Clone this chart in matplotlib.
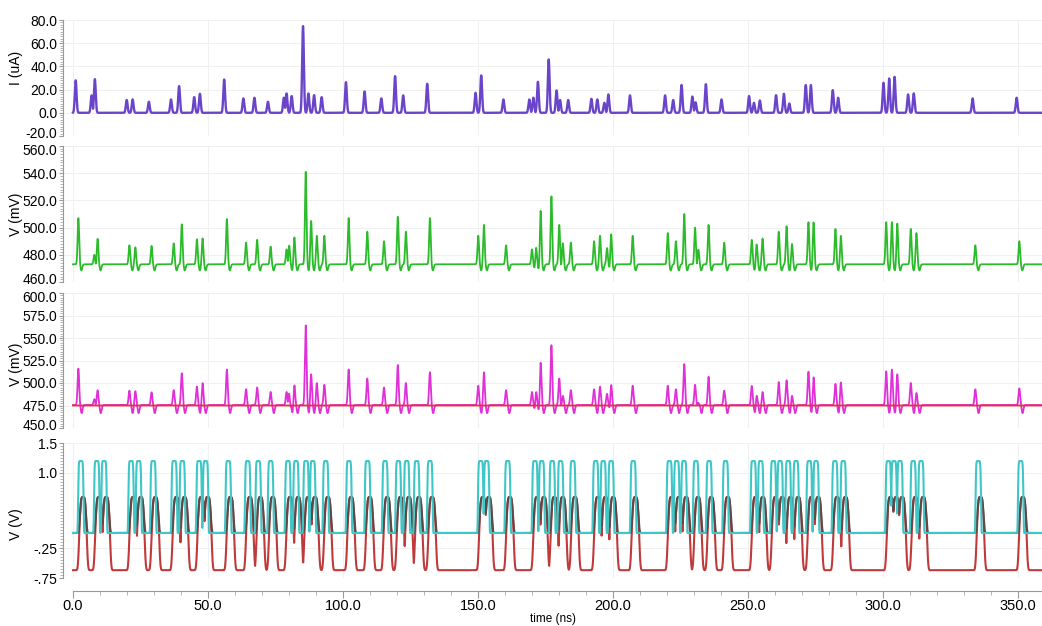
import numpy as np
import matplotlib.pyplot as plt
from matplotlib.ticker import MultipleLocator, FixedLocator
from matplotlib.transforms import ScaledTranslation

plt.rcParams['font.family'] = ['Liberation Sans', 'DejaVu Sans']

# spike events (ns), with the peak of each panel
spike_t = [1.0, 6.9, 8.1, 19.9, 22.1, 28.1, 36.3, 39.3, 44.9, 47.0,
           56.0, 63.1, 67.2, 72.2, 78.1, 79.1, 81.0, 85.2, 87.2, 89.3,
           92.1, 101.1, 108.0, 114.2, 119.3, 122.3, 131.2, 149.1, 151.2, 159.4,
           169.0, 170.5, 172.2, 176.2, 179.1, 180.4, 183.4, 192.0, 194.2, 196.8,
           198.3, 206.3, 219.3, 222.3, 225.4, 229.4, 230.6, 234.4, 240.2, 250.4,
           252.2, 254.4, 260.4, 263.3, 265.3, 271.4, 273.3, 281.4, 283.4, 300.2,
           302.3, 304.3, 309.3, 311.4, 333.2, 349.5]
current_peak = [28, 15, 29, 11, 11.5, 9.5, 11.5, 23, 13.5, 16.4,
                28.7, 12.4, 13, 9.5, 13, 16.7, 14.4, 74.7, 16.7, 15.2,
                13.5, 26.4, 18.4, 12.4, 31.6, 15, 25, 17.2, 32.2, 11.5,
                11.5, 13, 26.7, 46, 19.3, 11, 11, 12, 11.5, 8.6,
                15.8, 15, 15, 11, 24, 14, 9, 24.7, 11.5, 14.4,
                8.6, 10.6, 15.2, 16.4, 8, 23.9, 23.9, 19.5, 13, 25.9,
                29.6, 31, 15.8, 16.7, 12.4, 13]
green_peak = [507, 480, 496, 487, 485.5, 486.5, 488.4, 502.4, 491.4, 492.1,
              506.3, 489, 491, 486, 484, 491, 493, 541, 505, 494,
              494, 507, 497, 490, 508, 497, 507, 494, 502, 487,
              484, 487, 513, 523, 502, 492, 489, 490, 494, 485,
              497, 494, 496, 490, 510, 500, 488, 502, 489, 491,
              488, 492, 497, 501, 488, 504, 504, 499, 494, 504,
              504, 503, 499, 496, 487, 490]
pink_peak = [516, 482, 501, 491.5, 491, 489.6, 492, 510.8, 496, 500,
             515, 493, 495, 490, 490, 495, 498, 564, 510, 500,
             498, 515, 505, 495, 520, 500, 512, 497, 512, 492,
             490, 495, 525, 542, 505, 494, 492, 493, 496, 488,
             503, 497, 497, 493, 521, 498, 487, 507, 491.5, 496.7,
             487, 490, 501, 503, 486, 512.6, 507, 499, 501, 513,
             515, 510, 500, 489, 493, 494]

# output pulses of the bottom panel (ns)
pulse_t = [2.9, 8.8, 11.5, 21.5, 24.3, 29.7, 37.5, 40.5, 46.7, 49.1,
           57.5, 64.7, 68.6, 73.2, 79.6, 82.6, 86.3, 88.8, 93.6, 102.2,
           109.1, 115.6, 120.5, 123.6, 127.3, 132.2, 151.0, 153.2, 161.0, 171.1,
           173.6, 177.5, 180.6, 185.1, 193.6, 196.4, 199.3, 207.5, 220.9, 223.6,
           226.3, 230.7, 235.6, 241.7, 252.0, 254.7, 259.4, 261.9, 264.9, 267.8,
           272.7, 275.2, 282.2, 285.3, 302.0, 304.1, 306.3, 311.2, 314.1, 335.3,
           351.0]

t = np.linspace(0, 360, 12000)


def bumps(centers, heights, width, power=2):
    out = np.zeros_like(t)
    for c, h in zip(centers, np.broadcast_to(heights, len(centers))):
        out = np.maximum(out, h * np.exp(-np.abs((t - c) / width) ** power))
    return out


st = np.array(spike_t)
i_trace = bumps(st, current_peak, 0.45)
g_trace = 473 + bumps(st + 1.0, np.array(green_peak) - 473, 0.4) - bumps(st + 2.1, 4.5, 0.45)
p_trace = 475.5 + bumps(st + 1.0, np.array(pink_peak) - 475.5, 0.42) - bumps(st + 2.2, 9.0, 0.45)
ref_trace = np.full_like(t, 475.0)
pt = np.array(pulse_t)
cyan_trace = bumps(pt, 1.2, 1.05, power=8)
red_trace = -0.62 + bumps(pt + 0.8, 1.22, 1.5, power=4)
dark_trace = bumps(pt + 0.8, 0.6, 1.25, power=4)

fig = plt.figure(figsize=(10.42, 6.26), dpi=100)
left = 63 / 1042
rows = [(20, 136), (146, 282), (293, 428), (443, 578)]
axes = [fig.add_axes([left, 1 - b / 626, 1 - left, (b - a) / 626]) for a, b in rows]

axes[0].plot(t, i_trace, color='#6a45c9', lw=1.7)
axes[1].plot(t, g_trace, color='#2bbb2b', lw=1.3)
axes[2].plot(t, p_trace, color='#e030d8', lw=1.3)
axes[2].plot(t, ref_trace, color='#e8303c', lw=1.3)
axes[3].plot(t, red_trace, color='#bf3a3a', lw=1.5)
axes[3].plot(t, dark_trace, color='#5e4848', lw=1.5)
axes[3].plot(t, cyan_trace, color='#3fc6c6', lw=1.5)

limits = [(-20, 80), (460, 560), (450, 600), (-0.75, 1.5)]
majors = [np.arange(-20, 81, 20), np.arange(460, 561, 20), np.arange(450, 601, 25),
          [-0.75, -0.25, 1.0, 1.5]]
minors = [2, 2, 2.5, 0.05]
ylabels = ['I (uA)', 'V (mV)', 'V (mV)', 'V (V)']
label_y = [0.59, 0.5, 0.47, 0.4]

for ax, lim, maj, mn, lab, ly in zip(axes, limits, majors, minors, ylabels, label_y):
    ax.set_xlim(-3.7, 358.9)
    ax.set_ylim(*lim)
    ax.yaxis.set_major_locator(FixedLocator(maj))
    ax.yaxis.set_minor_locator(MultipleLocator(mn))
    ax.xaxis.set_major_locator(MultipleLocator(50))
    ax.xaxis.set_minor_locator(MultipleLocator(10))
    for s in ['top', 'right', 'bottom']:
        ax.spines[s].set_visible(False)
    ax.spines['left'].set_color('#999999')
    ax.tick_params(axis='y', which='major', length=3, color='#999999', labelsize=10, pad=1)
    ax.tick_params(axis='y', which='minor', length=2, color='#aaaaaa')
    ax.tick_params(axis='x', which='both', bottom=False, labelbottom=False)
    ax.grid(True, which='major', color='#f0f0f0', lw=0.8)
    ax.set_ylabel(lab, fontsize=10)
    ax.yaxis.set_label_coords(-0.041, ly)
    ax.patch.set_alpha(0)

for ax in axes[:3]:
    ax.set_yticklabels([f'{v:.1f}' for v in ax.get_yticks()])
axes[3].set_yticklabels(['-.75', '-.25', '1.0', '1.5'])

# the stacked end labels sit just clear of each other
up = ScaledTranslation(0, 2.5 / 72, fig.dpi_scale_trans)
down = ScaledTranslation(0, -2.5 / 72, fig.dpi_scale_trans)
for ax in axes[:3]:
    lbl = ax.get_yticklabels()[0]
    lbl.set_transform(lbl.get_transform() + up)
for ax in axes[1:3]:
    lbl = ax.get_yticklabels()[-1]
    lbl.set_transform(lbl.get_transform() + down)

bx = axes[3]
bx.spines['bottom'].set_visible(True)
bx.spines['bottom'].set_position(('outward', 9))
bx.spines['bottom'].set_bounds(0, 358.9)
bx.spines['bottom'].set_color('#999999')
bx.tick_params(axis='x', which='major', bottom=True, labelbottom=True, length=5,
               color='#999999', labelsize=10.5, pad=1)
bx.tick_params(axis='x', which='minor', bottom=True, length=3, color='#aaaaaa')
bx.set_xticks(np.arange(0, 351, 50))
bx.set_xticklabels([f'{v:.1f}' for v in np.arange(0, 351, 50)])
bx.set_xlabel('time (ns)', fontsize=8.5, labelpad=0)

fig.savefig('out.png', dpi=100)
